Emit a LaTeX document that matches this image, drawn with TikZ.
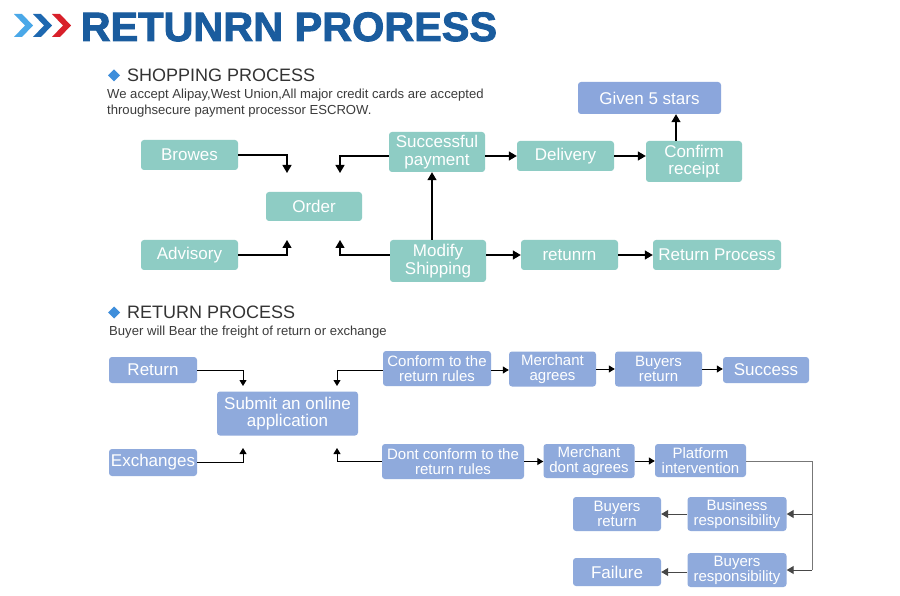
\documentclass[tikz,border=0pt]{standalone}
\usepackage{fontspec}
\setmainfont{Liberation Sans}
\newfontfamily\heavyfont[FakeBold=2.2]{Liberation Sans Bold}
\usetikzlibrary{arrows.meta}
\definecolor{tealbox}{HTML}{8ECCC4}
\definecolor{bluebox}{HTML}{8FAADC}
\definecolor{starbox}{HTML}{8BA6DC}
\definecolor{titleblue}{HTML}{1A5C9E}
\definecolor{chevlight}{HTML}{4AA8E8}
\definecolor{chevmid}{HTML}{1E68B0}
\definecolor{chevred}{HTML}{D8202A}
\definecolor{diam}{HTML}{3E8EDB}
\definecolor{headtxt}{HTML}{333333}
\definecolor{bodytxt}{HTML}{3C3C3C}
\definecolor{gline}{HTML}{777777}
\begin{document}
\begin{tikzpicture}[x=1pt,y=-1pt,
  box/.style={rounded corners=3pt, inner sep=0pt, align=center, text=white, draw=none,
              font=\fontsize{17}{17.5}\selectfont},
  tbox/.style={box, fill=tealbox},
  bbox/.style={box, fill=bluebox},
  sm/.style={font=\fontsize{15}{15}\selectfont},
  arr/.style={-{Triangle[width=9pt,length=8pt]}, line width=1.3pt, black},
  arrs/.style={-{Triangle[width=7pt,length=6pt]}, line width=1pt, black},
  grayline/.style={line width=1pt, gline},
  garr/.style={-{Triangle[width=8pt,length=7pt]}, line width=1pt, gline!60!black},
  heading/.style={anchor=base west, inner sep=0pt, text=headtxt, font=\fontsize{18}{18}\selectfont},
  body/.style={anchor=base west, inner sep=0pt, text=bodytxt, font=\fontsize{13.1}{16}\selectfont}
]
\useasboundingbox (0,0) rectangle (900,596);
\fill[white] (0,0) rectangle (900,596);

% title
\fill[chevlight] (14,14) -- (22,14) -- (33,25.5) -- (22,37) -- (14,37) -- (25,25.5) -- cycle;
\fill[chevmid] (33,14) -- (41,14) -- (52,25.5) -- (41,37) -- (33,37) -- (44,25.5) -- cycle;
\fill[chevred] (52,14) -- (60,14) -- (71,25.5) -- (60,37) -- (52,37) -- (63,25.5) -- cycle;
\node[anchor=base west, inner sep=0pt, text=titleblue, font=\fontsize{41}{41}\heavyfont] (title) at (80.5,41) {\scalebox{1.01}[1]{RETUNRN PRORESS}};

% shopping heading
\fill[diam] (108,75.5) -- (114,69.5) -- (120,75.5) -- (114,81.5) -- cycle;
\node[heading] (h1) at (127,81.5) {SHOPPING PROCESS};
\node[body] (b1) at (107,99) {We accept Alipay,West Union,All major credit cards are accepted};
\node[body] (b2) at (107,115) {throughsecure payment processor ESCROW.};

% shopping boxes
\node[tbox, minimum width=97, minimum height=30] (browes) at (189.5,155) {Browes};
\node[tbox, minimum width=97, minimum height=30] (advisory) at (189.5,255) {Advisory};
\node[tbox, minimum width=96, minimum height=29] (order) at (314,206.5) {Order};
\node[tbox, minimum width=96, minimum height=40] (pay) at (437,152) {Successful\\payment};
\node[tbox, minimum width=96, minimum height=42] (modify) at (438,261) {Modify\\Shipping};
\node[tbox, minimum width=97, minimum height=30] (delivery) at (565.5,156) {Delivery};
\node[tbox, minimum width=96, minimum height=41] (confirm) at (694,161.5) {Confirm\\receipt};
\node[box, fill=starbox, minimum width=143, minimum height=32] (stars) at (649.5,98) {Given 5 stars};
\node[tbox, minimum width=97, minimum height=30] (retunrn) at (569.5,255) {retunrn};
\node[tbox, minimum width=128, minimum height=30] (retproc) at (717,255) {Return Process};

% shopping arrows
\coordinate (o1) at (287,173);
\coordinate (o2) at (287,240);
\coordinate (o3) at (340,173);
\coordinate (o4) at (340,240);
\draw[arr] (browes.east) -| (o1);
\draw[arr] (advisory.east) -| (o2);
\draw[arr] ([yshift=-4pt]pay.west) -| (o3);
\draw[arr] ([yshift=6pt]modify.west) -| (o4);
\draw[arr] ([xshift=-6pt]modify.north) -- ([xshift=-6pt]modify.north |- pay.south);
\draw[arr] (pay.east |- delivery) -- (delivery.west);
\draw[arr] (delivery.east) -- (delivery.east -| confirm.west);
\draw[arr] ([xshift=-18pt]confirm.north) -- ([xshift=-18pt]confirm.north |- stars.south);
\draw[arr] (modify.east |- retunrn) -- (retunrn.west);
\draw[arr] (retunrn.east) -- (retproc.west);

% return heading
\fill[diam] (108,312.5) -- (114,306.5) -- (120,312.5) -- (114,318.5) -- cycle;
\node[heading] (h2) at (127,318.5) {RETURN PROCESS};
\node[body] (b3) at (109,335.5) {Buyer will Bear the freight of return or exchange};

% return boxes
\node[bbox, minimum width=88, minimum height=26] (ret) at (153,370) {Return};
\node[bbox, minimum width=88, minimum height=27] (exch) at (153,462.5) {Exchanges};
\node[bbox, minimum width=141, minimum height=44] (submit) at (287.5,413.5) {Submit an online\\application};
\node[bbox, sm, minimum width=108, minimum height=35] (conf) at (437,368.5) {Conform to the\\return rules};
\node[bbox, sm, minimum width=87, minimum height=35] (magr) at (552.5,369) {Merchant\\agrees};
\node[bbox, sm, minimum width=87, minimum height=35] (bret) at (658.5,369) {Buyers\\return};
\node[bbox, minimum width=86, minimum height=26] (succ) at (766,370) {Success};
\node[bbox, sm, minimum width=142, minimum height=35] (dconf) at (453,461.5) {Dont conform to the\\return rules};
\node[bbox, sm, minimum width=91, minimum height=34] (mdagr) at (589,461) {Merchant\\dont agrees};
\node[bbox, sm, minimum width=91, minimum height=33] (plat) at (700.5,460.5) {Platform\\intervention};
\node[bbox, sm, minimum width=88, minimum height=34] (bret2) at (617,514) {Buyers\\return};
\node[bbox, sm, minimum width=99, minimum height=34] (bus) at (737,514) {Business\\responsibility};
\node[bbox, minimum width=88, minimum height=28] (fail) at (617,572) {Failure};
\node[bbox, sm, minimum width=99, minimum height=34] (bresp) at (737,570) {Buyers\\responsibility};

% return arrows
\coordinate (s1) at (243,386);
\coordinate (s2) at (243,448);
\coordinate (s3) at (337,386);
\coordinate (s4) at (337,448);
\draw[arrs] (ret.east) -| (s1);
\draw[arrs] (exch.east) -| (s2);
\draw[arrs] ([yshift=-1.5pt]conf.west) -| (s3);
\draw[arrs] (dconf.west) -| (s4);
\draw[arrs] ([yshift=-1.5pt]conf.east) -- ([yshift=-1.5pt]conf.east -| magr.west);
\draw[arrs] (magr.east) -- (magr.east -| bret.west);
\draw[arrs] (bret.east) -- (bret.east -| succ.west);
\draw[arrs] (dconf.east) -- (dconf.east -| mdagr.west);
\draw[arrs] (mdagr.east) -- (mdagr.east -| plat.west);
\coordinate (r1) at (812,461);
\draw[grayline] (plat.east |- r1) -- (r1) -- (r1 |- bresp.east);
\draw[garr] (r1 |- bus.east) -- (bus.east);
\draw[garr] (r1 |- bresp.east) -- (bresp.east);
\draw[garr] (bus.west) -- (bret2.east);
\draw[garr] (bresp.west |- fail) -- (fail.east);
\end{tikzpicture}
\end{document}
